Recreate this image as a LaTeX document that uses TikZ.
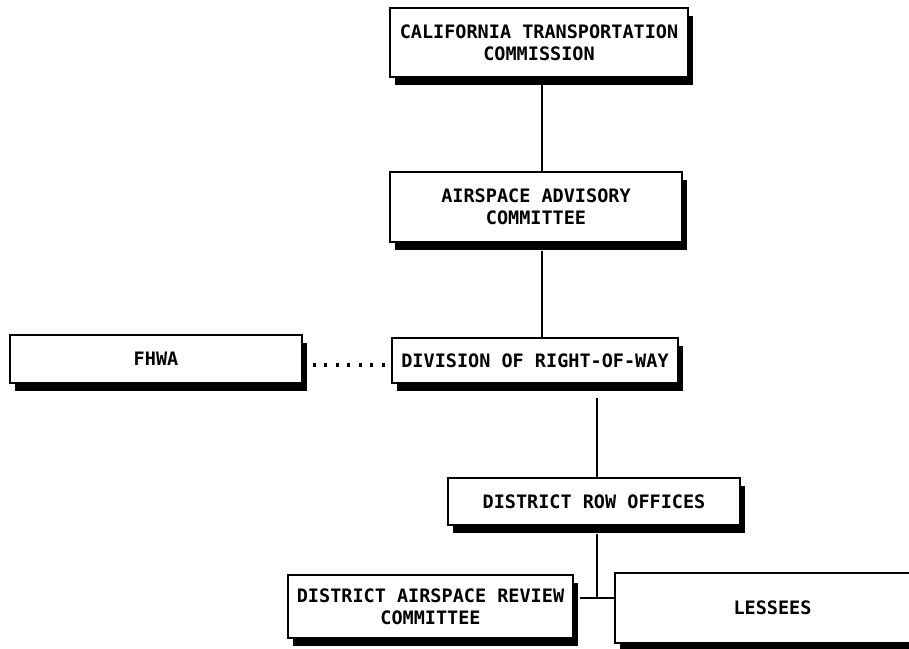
\documentclass[tikz,border=0pt]{standalone}
\usepackage{fontspec}
\newfontfamily\boxfont{DejaVu Sans Mono}
\usetikzlibrary{shadows,calc}
\tikzset{
  orgbox/.style={draw=black, line width=1.4pt, fill=white, inner sep=0pt,
    align=center, font=\boxfont\bfseries\fontsize{18.5}{22}\selectfont,
    drop shadow={shadow xshift=5pt, shadow yshift=-8pt, fill=black, opacity=1}},
  link/.style={draw=black, line width=1.3pt},
  dotlink/.style={draw=black, line width=3.2pt, dash pattern=on 3.2pt off 8.3pt}
}
\begin{document}
\begin{tikzpicture}[x=1pt,y=-1pt]
\useasboundingbox (0,0) rectangle (909,648);
\coordinate (xa) at (542,0);
\coordinate (xb) at (597,0);
\coordinate (ja) at (597,598);
\coordinate (jt) at (597,398);
\node[orgbox, minimum width=298pt, minimum height=69pt] (ctc) at (539,42.5) {CALIFORNIA TRANSPORTATION\\COMMISSION};
\node[orgbox, minimum width=292pt, minimum height=70pt] (aac) at (536,207) {AIRSPACE ADVISORY\\COMMITTEE};
\node[orgbox, minimum width=286pt, minimum height=45pt] (div) at (535,360.5) {DIVISION OF RIGHT-OF-WAY};
\node[orgbox, minimum width=292pt, minimum height=48pt] (fhwa) at (156,359) {FHWA};
\node[orgbox, minimum width=292pt, minimum height=47pt] (dro) at (594,501.5) {DISTRICT ROW OFFICES};
\node[orgbox, minimum width=285pt, minimum height=63pt] (darc) at (430.5,606.5) {DISTRICT AIRSPACE REVIEW\\COMMITTEE};
\node[orgbox, minimum width=315pt, minimum height=70pt] (les) at (772.5,608) {LESSEES};
\draw[link] (ctc.south -| xa) ++(0,6) -- (aac.north -| xa);
\draw[link] (aac.south -| xa) ++(0,8) -- (div.north -| xa);
\draw[link] (jt) -- (dro.north -| xb);
\draw[link] (dro.south -| xb) ++(0,8) -- (ja);
\draw[link] (darc.east |- ja) ++(6,0) -- (les.west |- ja);
\coordinate (d1) at ($(fhwa.east)+(10,6)$);
\coordinate (d2) at ($(div.west)+(-4,4.5)$);
\draw[dotlink] (d1) -- (d2);
\end{tikzpicture}
\end{document}
